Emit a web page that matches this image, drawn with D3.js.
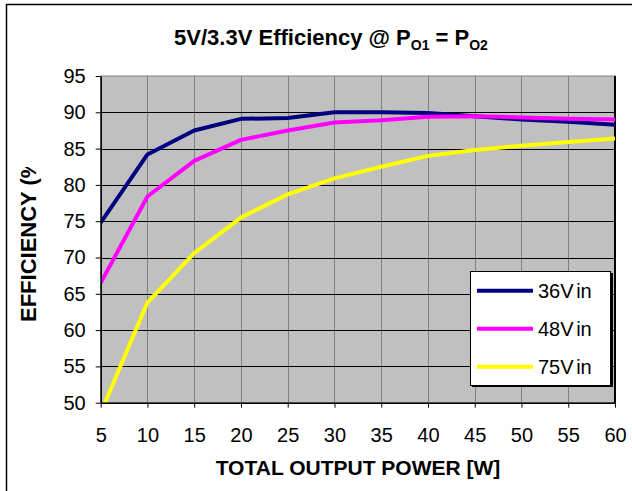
<!DOCTYPE html>
<html>
<head>
<meta charset="utf-8">
<script src="https://cdn.jsdelivr.net/npm/d3@7"></script>
<style>
	html, body { margin: 0; padding: 0; background: #fff; }
	svg { display: block; font-family: "Liberation Sans", Arial, sans-serif; }
</style>
</head>
<body>
<div id="chart"></div>
<script>
/* global d3 */
var power = [5, 10, 15, 20, 25, 30, 35, 40, 45, 50, 55, 60];
var eff36 = [74.8, 84.2, 87.5, 89.1, 89.2, 90.0, 90.0, 89.9, 89.45, 89.0, 88.7, 88.3];
var eff48 = [66.5, 78.4, 83.3, 86.2, 87.5, 88.6, 88.9, 89.4, 89.45, 89.3, 89.1, 89.0];
var eff75 = [48.6, 63.8, 70.6, 75.5, 78.7, 80.9, 82.5, 84.0, 84.8, 85.4, 85.9, 86.4];
var seriesNames = ["36Vin", "48Vin", "75Vin"];
var seriesColors = ["#000080", "#ff00ff", "#ffff00"];
var yTicks = [50, 55, 60, 65, 70, 75, 80, 85, 90, 95];

(function(){
	'use strict';

	var width = 632,
		height = 491,
		left = 100.7,
		right = 615,
		top = 76,
		bottom = 402.7;

	var series = [eff36, eff48, eff75].map(function(vals, i){
		return { name: seriesNames[i], color: seriesColors[i], values: vals };
	});

	var x = d3.scaleLinear().domain([5, 60]).range([left, right]);
	var y = d3.scaleLinear().domain([50, 95]).range([bottom, top]);

	var svg = d3.select("#chart")
		.append("svg")
		.attr("width", width)
		.attr("height", height);

	// chart area border (only left and top visible in the shot)
	svg.append("rect")
		.attr("x", 6.5).attr("y", 4.5)
		.attr("width", width + 20).attr("height", height + 20)
		.attr("fill", "#fff")
		.attr("stroke", "#000")
		.attr("stroke-width", 1.5);

	// title
	var title = svg.append("text")
		.attr("x", 331).attr("y", 45)
		.attr("text-anchor", "middle")
		.attr("font-weight", "bold")
		.attr("font-size", 22);
	title.append("tspan").text("5V/3.3V Efficiency @ P");
	title.append("tspan").attr("font-size", 14).attr("dy", 5).text("O1");
	title.append("tspan").attr("dy", -5).text(" = P");
	title.append("tspan").attr("font-size", 14).attr("dy", 5).text("O2");

	// plot background
	svg.append("rect")
		.attr("x", left).attr("y", top)
		.attr("width", right - left).attr("height", bottom - top)
		.attr("fill", "#c0c0c0")
		.attr("stroke", "#808080");

	// vertical gridlines
	svg.append("g")
		.selectAll("line")
		.data(power.slice(1, -1))
		.enter().append("line")
		.attr("x1", function(d){ return Math.round(x(d)) + 0.5; })
		.attr("x2", function(d){ return Math.round(x(d)) + 0.5; })
		.attr("y1", top).attr("y2", bottom)
		.attr("stroke", "#808080");

	// horizontal gridlines
	svg.append("g")
		.selectAll("line")
		.data(yTicks.slice(1, -1))
		.enter().append("line")
		.attr("x1", left).attr("x2", right)
		.attr("y1", function(d){ return Math.round(y(d)) + 0.5; })
		.attr("y2", function(d){ return Math.round(y(d)) + 0.5; })
		.attr("stroke", "#000");

	// right border of the plot
	svg.append("line")
		.attr("x1", right).attr("x2", right)
		.attr("y1", top).attr("y2", bottom)
		.attr("stroke", "#000").attr("stroke-width", 2);

	// lines
	svg.append("clipPath").attr("id", "plotclip")
		.append("rect")
		.attr("x", left).attr("y", top)
		.attr("width", right - left).attr("height", bottom - top);

	var line = d3.line()
		.x(function(d, i){ return x(power[i]); })
		.y(function(d){ return y(d); });

	svg.append("g")
		.attr("clip-path", "url(#plotclip)")
		.selectAll("path")
		.data(series)
		.enter().append("path")
		.attr("d", function(d){ return line(d.values); })
		.attr("fill", "none")
		.attr("stroke", function(d){ return d.color; })
		.attr("stroke-width", 4)
		.attr("stroke-linejoin", "round");

	// axes
	var xAxis = d3.axisBottom(x)
		.tickValues(power)
		.tickSize(5)
		.tickPadding(20)
		.tickSizeOuter(0);
	var yAxis = d3.axisLeft(y)
		.tickValues(yTicks)
		.tickSize(5)
		.tickPadding(10)
		.tickSizeOuter(0);

	var gx = svg.append("g")
		.attr("transform", "translate(0," + bottom + ")")
		.call(xAxis);
	var gy = svg.append("g")
		.attr("transform", "translate(" + left + ",0)")
		.call(yAxis);

	[gx, gy].forEach(function(g){
		g.selectAll("path.domain").attr("stroke", "#000").attr("stroke-width", 1.5);
		g.selectAll(".tick line").attr("stroke", "#000");
		g.selectAll(".tick text")
			.attr("fill", "#000")
			.attr("font-family", "Liberation Sans, Arial, sans-serif")
			.attr("font-size", 20);
	});

	// axis titles
	svg.append("text")
		.attr("x", 358).attr("y", 475)
		.attr("text-anchor", "middle")
		.attr("font-weight", "bold")
		.attr("font-size", 21)
		.text("TOTAL OUTPUT POWER [W]");

	// the y title is cut off at the top in the original
	svg.append("clipPath").attr("id", "ytitleclip")
		.append("rect")
		.attr("x", 0).attr("y", 167)
		.attr("width", 60).attr("height", 200);

	svg.append("g")
		.attr("clip-path", "url(#ytitleclip)")
		.append("text")
		.attr("transform", "translate(36,322) rotate(-90)")
		.attr("font-weight", "bold")
		.attr("font-size", 22)
		.text("EFFICIENCY (%)");

	// legend
	var lg = svg.append("g");
	lg.append("rect")
		.attr("x", 472).attr("y", 273)
		.attr("width", 141).attr("height", 114)
		.attr("fill", "#000");
	lg.append("rect")
		.attr("x", 470.5).attr("y", 271.5)
		.attr("width", 140).attr("height", 114)
		.attr("fill", "#fff")
		.attr("stroke", "#000");

	var legendY = d3.scalePoint().domain(seriesNames).range([290.7, 366.7]);

	var items = lg.selectAll("g.item")
		.data(series)
		.enter().append("g")
		.attr("class", "item")
		.attr("transform", function(d){ return "translate(0," + legendY(d.name) + ")"; });
	items.append("line")
		.attr("x1", 477).attr("x2", 533)
		.attr("stroke", function(d){ return d.color; })
		.attr("stroke-width", 4);
	items.append("text")
		.attr("x", 538).attr("dy", "0.36em")
		.attr("font-size", 20)
		.attr("word-spacing", -3)
		.text(function(d){ return d.name.replace("V", "V "); });
})();
</script>
</body>
</html>
